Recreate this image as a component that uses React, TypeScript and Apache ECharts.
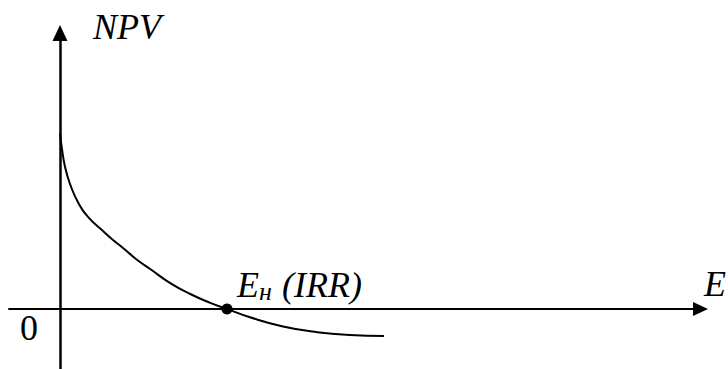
import React, { useEffect, useRef } from "react";
import * as echarts from "echarts";

// Discount rate E (%) and the matching net present value of the project
const E_RATE = [0, 0.2, 0.6, 1.2, 2.2, 3.35, 5.4, 6.35, 7.55, 9.1, 10.8, 13.2, 15.6, 18, 20, 22.75, 26.7, 30.8, 34.7, 38.8];
const NPV_VALUES = [100, 92.2, 80.8, 71, 60.2, 52.3, 43.2, 39.2, 34.7, 28.4, 22.7, 14.7, 8.5, 3.5, 0, -4.7, -9.9, -13.2, -14.8, -15.3];
// Internal rate of return: the rate at which NPV turns to zero
const IRR = 20;

const AXIS_X_TITLE = "E";
const AXIS_Y_TITLE = "NPV";
const ORIGIN_LABEL = "0";
const IRR_MAIN = "E";
const IRR_SUB = "н";
const IRR_NOTE = "(IRR)";

const FONT = "Liberation Serif";

export default function App() {
  const ref = useRef<HTMLDivElement>(null);

  useEffect(() => {
    if (!ref.current) return;
    const chart = echarts.init(ref.current, undefined, { renderer: "svg" });

    const hidden = {
      axisLabel: { show: false },
      axisTick: { show: false },
      splitLine: { show: false },
    };

    chart.setOption({
      animation: false,
      backgroundColor: "#ffffff",
      grid: { left: 9, right: 27.5, top: 33, bottom: 0, containLabel: false },
      xAxis: {
        type: "value",
        min: -6.108,
        max: 76.71,
        axisLine: {
          onZero: true,
          symbol: ["none", "triangle"],
          symbolSize: [14, 15],
          lineStyle: { color: "#000", width: 2 },
        },
        ...hidden,
      },
      yAxis: {
        type: "value",
        min: -34.1,
        max: 156.8,
        axisLine: {
          onZero: true,
          symbol: ["none", "triangle"],
          symbolSize: [15, 16],
          lineStyle: { color: "#000", width: 2.5 },
        },
        ...hidden,
      },
      series: [
        {
          type: "line",
          data: E_RATE.map((e, i) => [e, NPV_VALUES[i]]),
          smooth: 0.5,
          showSymbol: false,
          lineStyle: { color: "#000", width: 2 },
          silent: true,
        },
        {
          type: "scatter",
          data: [[IRR, 0]],
          symbol: "circle",
          symbolSize: 11,
          itemStyle: { color: "#000", opacity: 1 },
          silent: true,
          z: 5,
        },
      ],
    });

    const [px, py] = chart.convertToPixel({ gridIndex: 0 }, [IRR, 0]) as number[];
    const [ox, oy] = chart.convertToPixel({ gridIndex: 0 }, [0, 0]) as number[];

    // Text is placed by its top edge
    const txt = (text: string, x: number, y: number, size: number, italic = true) => ({
      type: "text",
      x,
      y,
      style: {
        text,
        fill: "#000",
        font: `${italic ? "italic" : "normal"} ${size}px ${FONT}`,
      },
    });

    chart.setOption({
      graphic: [
        txt(AXIS_Y_TITLE, ox + 33, 9, 36),
        txt(AXIS_X_TITLE, 704, oy - 43, 36),
        txt(ORIGIN_LABEL, ox - 40, oy + 1, 36, false),
        txt(IRR_MAIN, px + 10, py - 42, 36),
        txt(IRR_SUB, px + 32, py - 30, 26),
        txt(IRR_NOTE, px + 55, py - 42, 36),
      ],
    });

    return () => chart.dispose();
  }, []);

  return (
    <div
      ref={ref}
      style={{ position: "absolute", left: 0, top: 0, width: 728, height: 369, background: "#fff" }}
    />
  );
}
